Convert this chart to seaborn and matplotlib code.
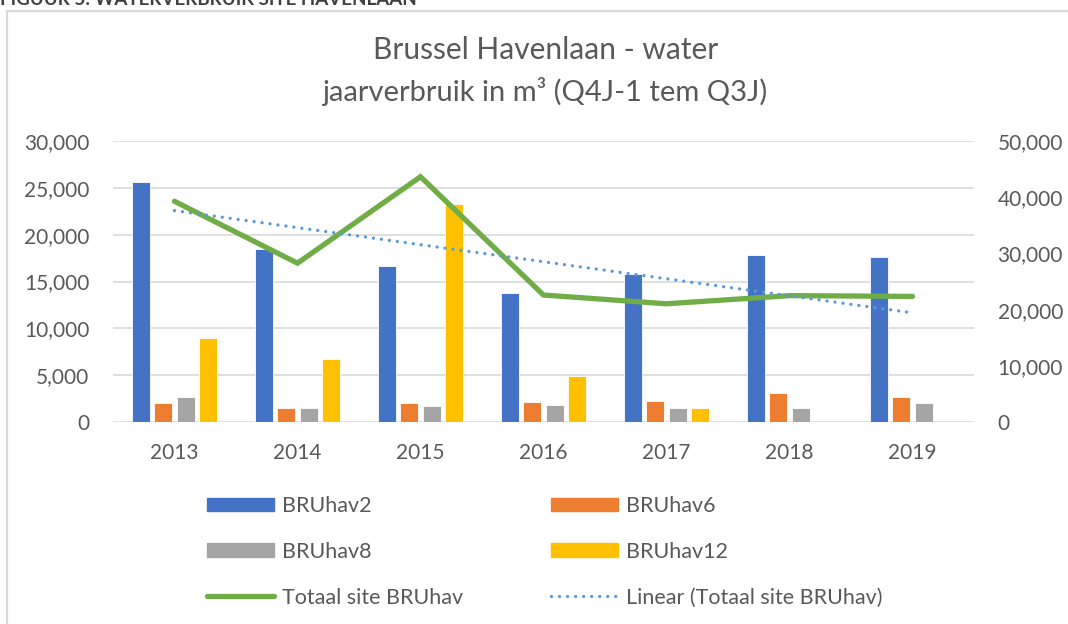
import numpy as np
import pandas as pd
import matplotlib.pyplot as plt
import matplotlib.ticker as ticker
from matplotlib.patches import Rectangle, Patch
from matplotlib.lines import Line2D
import seaborn as sns

# values (m³ per year)
years = ['2013', '2014', '2015', '2016', '2017', '2018', '2019']
bruhav2 = [25600, 18470, 16690, 13740, 15770, 17860, 17650]
bruhav6 = [2000, 1530, 2000, 2100, 2240, 3130, 2670]
bruhav8 = [2670, 1500, 1680, 1815, 1530, 1495, 2030]
bruhav12 = [9000, 6760, 23270, 4940, 1495, 0, 0]
totaal = [39270, 28260, 43640, 22595, 21035, 22485, 22350]

meters = ['BRUhav2', 'BRUhav6', 'BRUhav8', 'BRUhav12']
colors = ['#4472C4', '#ED7D31', '#A5A5A5', '#FFC000']
green = '#70AD47'
trend_col = '#5B9BD5'
txt_col = '#595959'

sns.set_theme(style='white')
plt.rcParams['font.family'] = ['Lato', 'DejaVu Sans']

df = pd.DataFrame({'year': years * 4,
                   'meter': np.repeat(meters, len(years)),
                   'value': bruhav2 + bruhav6 + bruhav8 + bruhav12})

W, H = 1068, 624
fig = plt.figure(figsize=(W / 100, H / 100), dpi=100)
ax = fig.add_axes([113 / W, 1 - 422 / H, 861 / W, 281 / H])

sns.barplot(data=df, x='year', y='value', hue='meter', palette=colors,
            saturation=1, width=0.73, gap=0.2, errorbar=None,
            edgecolor='white', linewidth=0.6, ax=ax, legend=False, zorder=2)

ax2 = ax.twinx()
idx = np.arange(len(years))
sns.lineplot(x=idx, y=totaal, color=green, lw=3.8, ax=ax2,
             solid_capstyle='round', solid_joinstyle='miter', zorder=3)
# linear trendline of the total
coef = np.polyfit(idx, totaal, 1)
ax2.plot(idx, np.polyval(coef, idx), color=trend_col, lw=2.4,
         linestyle=(0, (0.01, 2.4)), dash_capstyle='round', zorder=4)

ax.set_ylim(0, 30000)
ax2.set_ylim(0, 50000)
ax.set_xlim(-0.5, 6.5)
ax.yaxis.set_major_locator(ticker.MultipleLocator(5000))
ax2.yaxis.set_major_locator(ticker.MultipleLocator(10000))
fmt = ticker.FuncFormatter(lambda v, p: f'{v:,.0f}')
ax.yaxis.set_major_formatter(fmt)
ax2.yaxis.set_major_formatter(fmt)

ax.set_xlabel('')
ax.set_ylabel('')
ax2.set_ylabel('')
ax.yaxis.grid(True, color='#d9d9d9', lw=1.2, zorder=0)
ax.set_axisbelow(True)
for a in (ax, ax2):
    for s in a.spines.values():
        s.set_visible(False)
ax.tick_params(axis='y', length=0, pad=17, labelsize=15, labelcolor=txt_col)
ax2.tick_params(axis='y', length=0, pad=17, labelsize=15, labelcolor=txt_col)
ax.tick_params(axis='x', length=0, pad=15, labelsize=15, labelcolor=txt_col)

fig.text(546 / W, 1 - 50 / H, 'Brussel Havenlaan - water', ha='center',
         va='center', fontsize=21.5, color=txt_col)
fig.text(545 / W, 1 - 91 / H, 'jaarverbruik in m³ (Q4J-1 tem Q3J)',
         ha='center', va='center', fontsize=21, color=txt_col)

# cut-off caption above the chart frame
fig.text(0.0, 1 - 5 / H, 'FIGUUR 5: WATERVERBRUIK SITE HAVENLAAN',
         ha='left', va='baseline', fontsize=13.5, fontweight='bold',
         color='#404040')
fig.add_artist(Rectangle((7 / W, -0.1), 1.1, 1.1 - 11 / H,
                         transform=fig.transFigure, fill=False,
                         edgecolor='#d9d9d9', lw=1.6))

handles = [Patch(color=colors[0]), Patch(color=colors[2]),
           Line2D([], [], color=green, lw=3.8, solid_capstyle='round'),
           Patch(color=colors[1]), Patch(color=colors[3]),
           Line2D([], [], color=trend_col, lw=2.4, linestyle=(0, (0.01, 2.4)),
                  dash_capstyle='round')]
labels = ['BRUhav2', 'BRUhav8', 'Totaal site BRUhav',
          'BRUhav6', 'BRUhav12', 'Linear (Totaal site BRUhav)']
fig.legend(handles, labels, ncol=2, loc='upper left',
           bbox_to_anchor=(207 / W, 1 - 496 / H), frameon=False,
           borderpad=0, borderaxespad=0, fontsize=15.5, labelcolor=txt_col,
           handlelength=3.1, handleheight=0.6, handletextpad=0.37,
           columnspacing=4.1, labelspacing=1.2)

plt.savefig('out.png', dpi=100)
plt.close()
